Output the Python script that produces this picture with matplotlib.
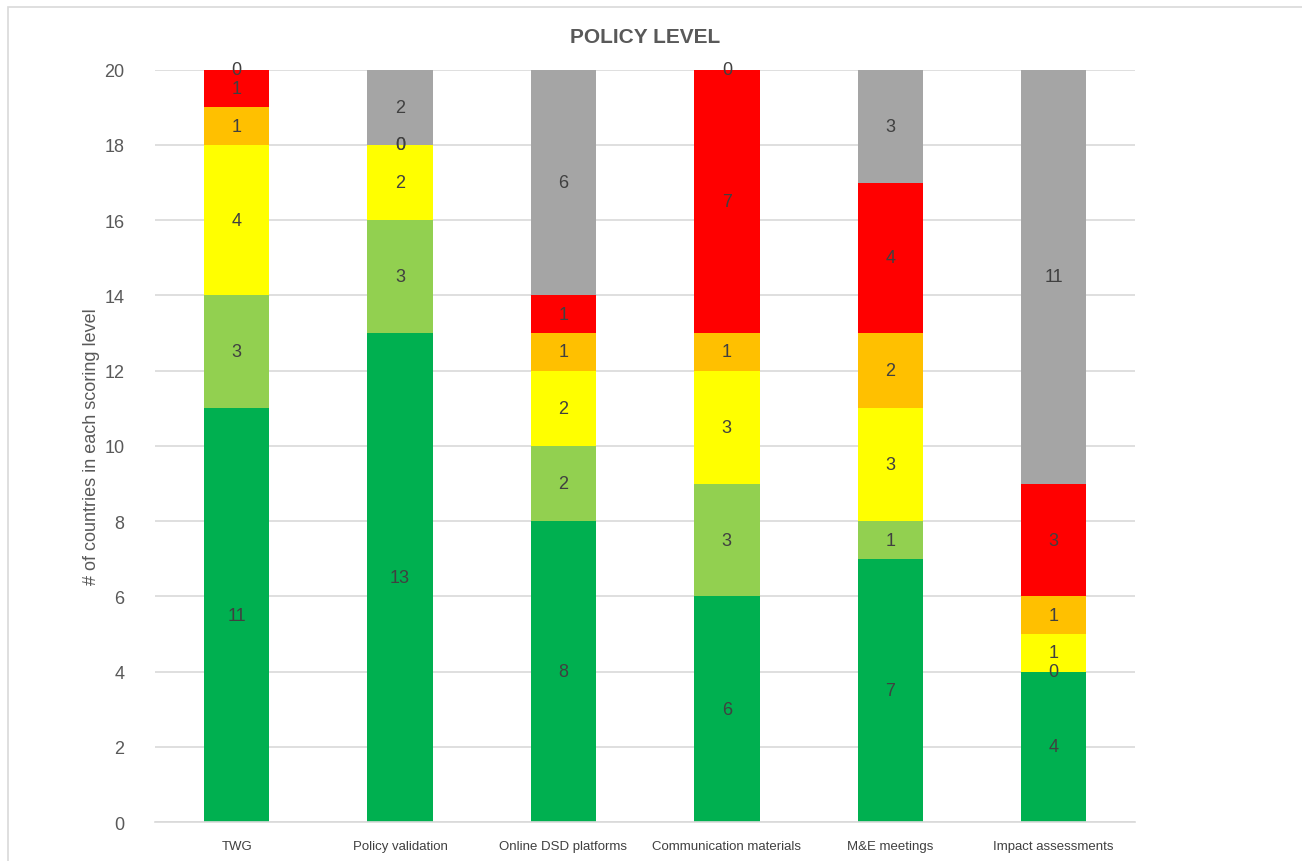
import numpy as np
import matplotlib
matplotlib.use("Agg")
import matplotlib.pyplot as plt
from matplotlib.patches import Rectangle

categories = ["TWG", "Policy validation", "Online DSD platforms",
              "Communication materials", "M&E meetings", "Impact assessments"]
# scoring levels, bottom to top
level_names = ["Level 4", "Level 3", "Level 2", "Level 1", "Level 0", "No data"]
level_colors = ["#00B050", "#92D050", "#FFFF00", "#FFC000", "#FF0000", "#A5A5A5"]
dark_green = [11, 13, 8, 6, 7, 4]
light_green = [3, 3, 2, 3, 1, 0]
yellow = [4, 2, 2, 3, 3, 1]
orange = [1, 0, 1, 1, 2, 1]
red = [1, 0, 1, 7, 4, 3]
gray = [0, 2, 6, 0, 3, 11]

series = [dark_green, light_green, yellow, orange, red, gray]

plt.rcParams["font.family"] = ["Liberation Sans", "DejaVu Sans"]

fig = plt.figure(figsize=(13.02, 8.62), dpi=100)
ax = fig.add_axes([0.119, 0.045, 0.753, 0.873])

# chart border
fig.patches.append(Rectangle((8 / 1302, -0.01), 1.02, (862 - 8) / 862 + 0.01,
                             transform=fig.transFigure, fill=False,
                             edgecolor="#D9D9D9", linewidth=1.2))

x = np.arange(len(categories))
bottom = np.zeros(len(categories))
for name, vals, col in zip(level_names, series, level_colors):
    vals = np.array(vals)
    ax.bar(x, vals, width=0.4, bottom=bottom, color=col, label=name, zorder=2)
    for xi, b, v in zip(x, bottom, vals):
        ax.text(xi, b + v / 2, str(v), ha="center", va="center",
                fontsize=13, color="#404040", zorder=3)
    bottom += vals

ax.set_xlim(-0.5, len(categories) - 0.5)
ax.set_ylim(0, 20)
ax.set_yticks(range(0, 21, 2))
ax.set_xticks(x)
ax.set_xticklabels(categories, fontsize=9.5, color="#404040")
ax.tick_params(axis="y", labelsize=13, colors="#595959", length=0, pad=22)
ax.tick_params(axis="x", length=0, pad=13)
ax.grid(axis="y", color="#D9D9D9", linewidth=1.2, zorder=0)
ax.set_axisbelow(True)
for s in ["top", "right", "left"]:
    ax.spines[s].set_visible(False)
ax.spines["bottom"].set_color("#D9D9D9")
ax.spines["bottom"].set_linewidth(1.2)

ax.set_ylabel("# of countries in each scoring level", fontsize=13, color="#595959", labelpad=3)
ax.set_title("POLICY LEVEL", fontsize=15, fontweight="bold", color="#595959", pad=20)

fig.savefig("out.png", dpi=100)
